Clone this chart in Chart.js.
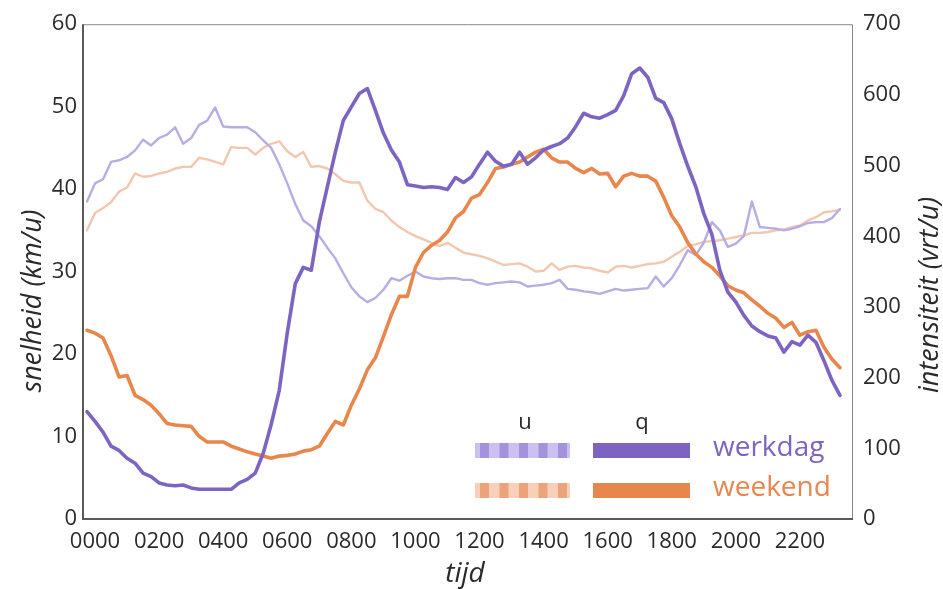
<!DOCTYPE html>
<html lang="nl">
<head>
<meta charset="UTF-8">
<title>snelheid en intensiteit</title>
<script src="https://cdn.jsdelivr.net/npm/chart.js@4"></script>
<style>
  html, body { margin: 0; padding: 0; background: #fff; }
  #wrap { width: 943px; height: 589px; }
</style>
</head>
<body>
<div id="wrap"><canvas id="chart" width="943" height="589"></canvas></div>
<script>
const TIJD = Array.from({ length: 95 }, (_, i) => -0.25 + i * 0.25);
const X_TICKS = [0, 2, 4, 6, 8, 10, 12, 14, 16, 18, 20, 22];

// intensiteit q (vrt/u)
const werkdagQ = [
  152,138,123,103,97,86,79,65,60,51,
  48,47,48,44,42,42,42,42,42,51,
  56,65,93,134,182,263,333,356,352,420,
  470,519,564,583,602,609,578,546,522,505,
  473,471,469,470,469,466,483,476,484,502,
  519,506,499,502,519,502,511,522,527,531,
  539,555,574,569,567,572,578,599,630,638,
  625,595,589,566,531,499,470,432,403,352,
  321,307,288,273,265,259,256,236,251,246,
  260,250,224,196,175
];
const weekendQ = [
  267,263,256,231,201,203,175,169,161,149,
  135,133,132,131,117,109,109,109,103,99,
  95,92,89,86,89,90,92,96,98,103,
  121,138,133,161,184,211,228,258,289,315,
  315,356,377,387,394,406,426,435,454,459,
  476,496,498,502,505,512,519,523,511,505,
  505,496,490,496,488,489,470,485,489,485,
  485,478,455,429,413,391,375,364,356,344,
  330,324,320,310,301,291,284,271,278,260,
  265,267,243,226,214
];

// snelheid u (km/u)
const werkdagU = [
  38.5,40.7,41.2,43.3,43.5,43.9,44.7,46.0,45.3,46.2,
  46.6,47.5,45.5,46.2,47.8,48.3,49.9,47.6,47.5,47.5,
  47.5,46.9,45.9,45.0,43.0,40.7,38.2,36.2,35.5,34.3,
  32.9,31.6,29.8,28.1,27.0,26.3,26.8,27.8,29.2,28.9,
  29.5,30.0,29.4,29.2,29.1,29.2,29.2,29.0,29.0,28.6,
  28.4,28.6,28.7,28.8,28.7,28.2,28.3,28.4,28.6,29.0,
  27.9,27.8,27.6,27.5,27.3,27.6,27.9,27.7,27.8,27.9,
  28.0,29.4,28.2,29.2,30.8,32.6,32.0,33.5,36.0,35.0,
  33.0,33.4,34.3,38.5,35.4,35.3,35.2,35.0,35.2,35.5,
  35.9,36.0,36.0,36.5,37.6
];
const weekendU = [
  35.0,37.1,37.7,38.4,39.7,40.2,41.9,41.5,41.6,41.9,
  42.1,42.5,42.7,42.7,43.8,43.6,43.3,43.0,45.1,45.0,
  45.0,44.2,45.0,45.5,45.8,44.6,43.9,44.5,42.7,42.8,
  42.5,41.8,41.0,40.8,40.8,38.6,37.6,37.2,36.2,35.4,
  34.8,34.3,33.9,33.5,33.1,33.5,32.9,32.3,32.1,31.9,
  31.6,31.2,30.8,30.9,31.0,30.6,30.0,30.1,31.0,30.2,
  30.6,30.7,30.5,30.4,30.1,29.9,30.6,30.7,30.5,30.7,
  30.9,31.0,31.2,31.8,32.4,33.1,33.3,33.6,33.7,33.8,
  34.0,34.2,34.4,34.7,34.7,34.8,35.0,35.1,35.4,35.6,
  36.2,36.6,37.2,37.3,37.5
];

const PAARS = '#7e64c2';
const PAARS_LICHT = '#b9ace4';
const ORANJE = '#e8874c';
const ORANJE_LICHT = '#f3c6ae';
const FONT = '"Open Sans", "Noto Sans", sans-serif';
const TEXT = '#2a2a2a';

function pts(vals) {
  return vals.map((v, i) => ({ x: TIJD[i], y: v }));
}

// frame, asteksten en legenda
const decor = {
  id: 'decor',
  afterDraw(chart) {
    const ctx = chart.ctx;
    const a = chart.chartArea;
    ctx.save();

    ctx.strokeStyle = '#8a8a8a';
    ctx.lineWidth = 1;
    ctx.beginPath();
    ctx.moveTo(a.left, a.top + 0.5);
    ctx.lineTo(a.right + 0.5, a.top + 0.5);
    ctx.lineTo(a.right + 0.5, a.bottom);
    ctx.stroke();
    ctx.strokeStyle = '#5a5a5a';
    ctx.lineWidth = 2;
    ctx.beginPath();
    ctx.moveTo(a.left, a.top);
    ctx.lineTo(a.left, a.bottom);
    ctx.lineTo(a.right + 1, a.bottom);
    ctx.stroke();

    ctx.fillStyle = TEXT;
    ctx.font = 'italic 27px ' + FONT;
    ctx.textAlign = 'center';
    ctx.textBaseline = 'alphabetic';
    ctx.save();
    ctx.translate(41, 301);
    ctx.rotate(-Math.PI / 2);
    ctx.fillText('snelheid (km/u)', 0, 0);
    ctx.restore();
    ctx.save();
    ctx.translate(938, 295);
    ctx.rotate(-Math.PI / 2);
    ctx.fillText('intensiteit (vrt/u)', 0, 0);
    ctx.restore();
    ctx.font = 'italic 28px ' + FONT;
    ctx.fillText('tijd', 465, 582);

    // legenda
    ctx.font = '22px ' + FONT;
    ctx.textBaseline = 'middle';
    ctx.fillText('u', 525, 423);
    ctx.fillText('q', 642, 423);

    const rows = [
      { y: 443, base: '#cbc0f0', dark: '#a592dc', solid: PAARS, label: 'werkdag' },
      { y: 483, base: '#f8d0ba', dark: '#eca27a', solid: ORANJE, label: 'weekend' }
    ];
    rows.forEach(r => {
      ctx.fillStyle = r.base;
      ctx.fillRect(475, r.y, 95, 15);
      ctx.fillStyle = r.dark;
      for (let k = 0; k < 5; k++) ctx.fillRect(480 + k * 19.5, r.y, 9, 15);
      ctx.fillStyle = r.solid;
      ctx.fillRect(593, r.y, 97, 15);
      ctx.font = '28px ' + FONT;
      ctx.textAlign = 'left';
      ctx.textBaseline = 'middle';
      ctx.fillText(r.label, 713, r.y + 5);
    });

    ctx.restore();
  }
};

const tickFont = { family: FONT, size: 22 };

new Chart(document.getElementById('chart'), {
  type: 'line',
  data: {
    datasets: [
      { label: 'q werkdag', data: pts(werkdagQ), yAxisID: 'q', borderColor: PAARS, borderWidth: 3.6 },
      { label: 'q weekend', data: pts(weekendQ), yAxisID: 'q', borderColor: ORANJE, borderWidth: 3.6 },
      { label: 'u werkdag', data: pts(werkdagU), yAxisID: 'u', borderColor: PAARS_LICHT, borderWidth: 2.4 },
      { label: 'u weekend', data: pts(weekendU), yAxisID: 'u', borderColor: ORANJE_LICHT, borderWidth: 2.4 }
    ]
  },
  options: {
    responsive: false,
    animation: false,
    devicePixelRatio: 1,
    layout: { padding: { top: 24, left: 0, right: 0, bottom: 0 } },
    elements: {
      point: { radius: 0 },
      line: { tension: 0, borderJoinStyle: 'round', borderCapStyle: 'round' }
    },
    plugins: { legend: { display: false }, tooltip: { enabled: false } },
    scales: {
      x: {
        type: 'linear',
        min: -0.375,
        max: 23.625,
        afterBuildTicks: s => { s.ticks = X_TICKS.map(v => ({ value: v })); },
        afterFit: s => { s.height = 70; },
        grid: { display: false, drawTicks: false },
        border: { display: false },
        ticks: {
          autoSkip: false,
          maxRotation: 0,
          padding: 10,
          color: TEXT,
          font: tickFont,
          callback: v => String(v * 100).padStart(4, '0')
        }
      },
      u: {
        position: 'left',
        min: 0,
        max: 60,
        afterFit: s => { s.width = 83; },
        grid: { display: false, drawTicks: false },
        border: { display: false },
        ticks: { stepSize: 10, padding: 6, color: TEXT, font: tickFont }
      },
      q: {
        position: 'right',
        min: 0,
        max: 700,
        afterFit: s => { s.width = 91; },
        grid: { display: false, drawTicks: false },
        border: { display: false },
        ticks: { stepSize: 100, padding: 11, color: TEXT, font: tickFont }
      }
    }
  },
  plugins: [decor]
});
</script>
</body>
</html>
